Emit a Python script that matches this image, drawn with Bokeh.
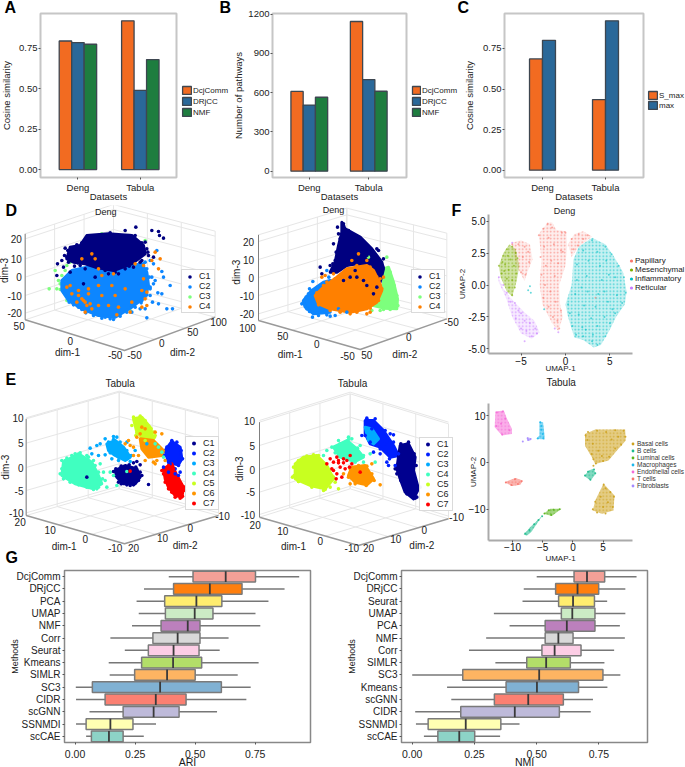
from math import pi
from bokeh.plotting import figure
from bokeh.models import Range1d, FixedTicker, Legend, LegendItem, Row, Column
from bokeh.core.properties import value
from bokeh.embed import file_html
from bokeh.resources import INLINE

FONT = "Liberation Sans"

# ---------- panels A, B, C ----------
DATASETS = ["Deng", "Tabula"]
METHODS_ABC = ["DcjComm", "DRjCC", "NMF"]
A_VALUES = [[0.795, 0.92], [0.785, 0.49], [0.775, 0.68]]
B_VALUES = [[610, 1144], [505, 700], [565, 611]]
C_NAMES = ["S_max", "max"]
C_VALUES = [[0.685, 0.435], [0.80, 0.92]]
BAR_COLORS = ["#f26b21", "#2a6899", "#1e7d3f"]

# ---------- panel G ----------
ARI_METHODS = ["DcjComm", "DRjCC", "PCA", "UMAP", "NMF", "Corr", "Seurat", "Kmeans", "SIMLR", "SC3", "CIDR", "scGNN", "SSNMDI", "scCAE"]
ARI_LOW = [.39, .287, .256, .265, .237, .147, .207, .14, .144, .003, .004, .06, .004, .046]
ARI_Q1 = [.491, .41, .373, .376, .358, .324, .305, .277, .248, .072, .125, .2, .046, .068]
ARI_MED = [.627, .561, .505, .498, .469, .427, .41, .408, .383, .354, .336, .327, .147, .141]
ARI_Q3 = [.751, .695, .611, .574, .52, .52, .516, .527, .50, .609, .462, .433, .241, .2]
ARI_HIGH = [.933, .872, .805, .751, .771, .639, .602, .764, .677, .731, .713, .591, .337, .286]
NMI_METHODS = ["DcjComm", "DRjCC", "Seurat", "UMAP", "PCA", "NMF", "Corr", "SIMLR", "SC3", "Kmeans", "scGNN", "CIDR", "SSNMDI", "scCAE"]
NMI_LOW = [.5, .448, .443, .328, .391, .297, .228, .334, .0, .14, .157, .012, .015, .047]
NMI_Q1 = [.65, .576, .588, .599, .534, .534, .521, .46, .203, .377, .33, .195, .064, .103]
NMI_MED = [.702, .664, .646, .643, .621, .587, .572, .538, .51, .501, .466, .412, .215, .189]
NMI_Q3 = [.773, .749, .732, .734, .734, .646, .678, .635, .766, .668, .607, .591, .356, .251]
NMI_HIGH = [.901, .856, .783, .856, .834, .854, .811, .772, .836, .784, .726, .717, .431, .353]
BOX_COLORS = ["#f4a097", "#ff7f0e", "#ffed6f", "#ccebc5", "#bc80bd", "#d9d9d9", "#fccde5", "#b3de69", "#fdb462", "#80b1d3", "#fb8072", "#bebada", "#ffffb3", "#8dd3c7"]

# ---------- panel D (projected plane of the 3-D views) ----------
CLUSTERS_4 = ["C1", "C2", "C3", "C4"]
COLORS_4 = ["#000080", "#0d86ff", "#7dff7d", "#ff8000"]
CLUSTERS_7 = ["C1", "C2", "C3", "C4", "C5", "C6", "C7"]
COLORS_7 = ["#00008f", "#0020ff", "#00aaff", "#40ffc0", "#c8ff20", "#ff9500", "#ff0000"]

D1_C1_BLOB = [(265,90),(330,85),(400,90),(435,120),(440,145),(400,175),(345,195),(290,185),(260,175),(225,170),(205,160),(215,125),(245,120)]
D1_C2_BLOB = [(190,225),(220,195),(290,180),(370,185),(430,175),(445,200),(450,240),(440,275),(400,305),(350,335),(300,330),(250,310),(210,285),(190,255)]
D1_C1 = [(412,65),(460,75),(480,78),(483,90),(495,98),(410,90),(380,75),(335,82),(268,92),(263,105),(235,118),(200,128),(205,155),(190,165),(177,175),(195,185),(175,210),(232,140),(220,150),(250,130),(300,100),(345,95),(440,110),(445,130),(465,155),(450,150),(430,165),(405,185),(380,190),(360,205),(330,205),(290,215),(255,235),(245,180),(275,165),(320,195),(310,110),(370,100),(395,130),(420,140),(280,100),(320,92),(355,88),(390,95),(430,112),(448,140),(425,170),(392,182),(350,200),(300,185),(268,175),(238,172),(210,170),(198,150),(208,135),(225,128),(250,112),(272,120),(228,182),(215,200),(260,190)]
D1_C2 = [(445,337),(505,310),(522,310),(480,295),(462,290),(478,262),(490,265),(515,240),(495,215),(490,198),(470,225),(460,215),(455,250),(465,235),(440,310),(425,310),(400,320),(345,342),(320,335),(250,312),(465,175),(455,165),(475,135),(440,170),(430,285),(455,270),(195,235),(200,265),(212,290),(225,298),(240,305),(262,322),(285,330),(310,338),(335,340),(365,332),(385,320),(410,305),(428,292),(445,268),(455,245),(452,215),(445,190),(435,175)]
D1_C3 = [(152,250),(170,195),(175,250),(185,235),(180,225),(190,210),(205,180),(215,170),(200,195),(195,260),(205,285),(210,275),(185,252),(310,85),(345,95),(320,130),(275,120),(350,170),(300,160),(260,140),(410,140),(395,315),(440,105),(420,120),(380,155),(330,150),(240,165)]
D1_C4 = [(215,240),(205,245),(240,255),(250,280),(260,290),(265,300),(275,295),(255,285),(240,270),(280,310),(260,320),(300,300),(330,300),(360,305),(355,328),(395,320),(430,305),(440,280),(445,260),(430,255),(435,220),(435,180),(460,165),(470,140),(485,160),(480,190),(445,300),(290,160),(280,145),(250,160),(345,205),(310,210),(310,270),(350,270),(380,250),(300,240),(270,265),(235,290),(410,175),(300,190),(340,240),(270,250),(400,290),(220,265)]

D2_C1_BLOB = [(355,50),(365,70),(410,95),(445,130),(475,170),(480,190),(470,230),(445,225),(430,200),(400,175),(370,180),(340,200),(320,200),(335,170),(345,120),(355,80)]
D2_C2_BLOB = [(240,285),(265,255),(300,230),(320,225),(345,235),(300,270),(310,300),(320,320),(270,325),(245,305)]
D2_C3_BLOB = [(480,190),(495,185),(510,230),(522,280),(520,310),(480,308),(450,300),(465,270),(480,235)]
D2_C4_BLOB = [(300,245),(340,215),(370,190),(430,180),(450,195),(470,235),(475,255),(460,290),(430,310),(380,320),(320,310),(285,295),(275,270)]
D2_C1 = [(342,65),(360,55),(345,85),(352,105),(330,115),(345,145),(335,165),(320,180),(290,185),(295,205),(400,145),(430,150),(460,130),(465,135),(480,160),(395,100),(375,75),(470,215),(460,245),(450,265),(420,225),(400,215),(380,215),(360,225),(430,240),(395,195),(340,185),(360,60),(372,80),(390,92),(412,108),(430,125),(448,140),(462,160),(478,185),(350,100),(338,140),(328,175)]
D2_C2 = [(240,288),(250,310),(267,335),(280,322),(305,318),(335,330),(320,332),(268,228),(290,240),(310,195),(316,215),(255,265),(345,310),(370,320),(258,250),(235,295),(248,275),(260,262),(282,245),(300,235),(245,300),(258,318),(285,330),(310,328)]
D2_C3 = [(470,315),(445,315),(490,155),(500,200),(435,155),(465,300),(505,300),(512,240),(520,270),(523,300),(500,312),(480,312),(492,190)]
D2_C4 = [(430,325),(440,320),(405,145),(380,325),(350,315),(295,215),(305,210),(330,205),(310,230),(430,165),(385,165),(440,185),(470,220),(480,215),(280,262),(300,240),(285,298),(320,315),(350,320),(400,320),(440,308),(465,285),(475,250),(460,215),(440,190),(400,180),(365,195),(335,220)]

# ---------- panel E ----------
E1_BLOBS = {
 0: [(350,285),(380,270),(415,280),(425,305),(410,325),(375,325),(355,305)],
 1: [(500,225),(520,198),(545,215),(550,250),(540,268),(510,262)],
 2: [(325,205),(350,195),(375,215),(395,245),(380,255),(350,240),(330,225)],
 3: [(195,260),(240,235),(280,260),(300,300),(310,325),(285,340),(230,325),(190,300)],
 4: [(405,130),(430,125),(455,155),(465,190),(440,195),(415,170)],
 5: [(425,190),(465,195),(495,225),(490,240),(450,245),(430,220)],
 6: [(495,280),(520,265),(535,300),(555,335),(550,365),(530,360),(510,335),(500,310)],
}
E1_C1 = [(345,288),(405,262),(425,268),(415,258),(450,327),(430,300),(360,320),(395,330),(350,300),(265,305),(352,280),(368,272),(392,268),(412,275),(425,290),(420,315),(405,328),(385,328),(368,325)]
E1_C2 = [(530,280),(545,290),(530,295),(510,290),(495,275),(540,300),(505,215),(520,195),(535,200),(548,225),(552,250),(540,270),(515,265),(498,240)]
E1_C3 = [(275,218),(295,210),(305,205),(320,190),(345,183),(355,185),(385,200),(280,235),(300,240),(320,238),(340,250),(360,255),(395,258),(410,225),(445,205),(330,200),(345,192),(365,200),(385,225),(398,240),(385,250),(360,245),(335,232)]
E1_C4 = [(190,255),(205,248),(230,235),(265,240),(285,255),(305,265),(315,290),(335,290),(345,300),(320,315),(355,330),(300,335),(285,342),(325,335),(185,295),(195,310),(215,320),(480,215),(490,230),(470,205),(495,245),(385,288),(300,310),(200,255),(220,240),(245,232),(270,245),(290,270),(300,290),(312,310),(295,340),(265,335),(240,328),(215,315),(190,280)]
E1_C5 = [(400,150),(465,170),(470,180),(412,180),(405,125),(425,122),(440,135),(458,160),(468,185),(440,195),(415,172)]
E1_C6 = [(380,205),(390,195),(405,215),(420,240),(440,160),(430,155),(415,185),(470,170),(470,265),(475,255),(500,255),(405,240),(395,210),(450,230),(440,255),(490,175),(465,260),(425,175)]
E1_C7 = [(490,285),(395,287),(545,368),(560,345),(520,350),(495,295),(510,270),(525,280),(540,310),(558,335),(552,362),(530,365),(510,340),(500,320),(535,340)]

E2_BLOBS = {
 0: [(530,210),(555,205),(575,245),(570,285),(585,340),(570,370),(545,350),(530,310),(520,280)],
 1: [(425,135),(450,135),(480,165),(510,210),(525,240),(500,245),(470,215),(440,205),(425,175)],
 2: [(425,155),(445,160),(465,190),(450,205),(435,195)],
 3: [(330,215),(370,195),(400,220),(420,245),(395,258),(350,245)],
 4: [(215,265),(240,245),(280,240),(310,270),(330,310),(305,340),(260,330),(215,310)],
 5: [(385,275),(425,270),(450,310),(430,328),(395,320),(375,300)],
}
E2_C1 = [(520,295),(515,280),(580,365),(575,310),(532,205),(555,200),(572,235),(578,270),(590,335),(575,368),(550,355),(532,315),(520,270),(530,245)]
E2_C2 = [(490,260),(495,270),(515,270),(500,175),(415,180),(450,230),(470,235),(485,205),(510,178),(430,128),(455,130),(485,165),(510,200),(525,235),(498,250),(470,220),(440,200),(425,180),(445,160)]
E2_C3 = [(440,170),(455,190)]
E2_C4 = [(310,225),(345,195),(375,185),(410,210),(440,235),(455,260),(420,260),(300,240),(385,190),(325,215),(350,205),(375,192),(402,218),(420,240),(395,260),(360,250),(335,232)]
E2_C5 = [(207,305),(225,318),(300,345),(320,335),(345,340),(330,305),(270,238),(320,315),(210,275),(225,255),(250,242),(285,240),(305,265),(325,300),(335,320),(305,342),(265,335),(225,318),(212,300)]
E2_C6 = [(470,328),(360,295),(445,265),(380,325),(380,280),(405,270),(430,272),(445,295),(452,315),(428,330),(395,325),(375,305)]
E2_C7 = [(340,245),(345,255),(330,260),(360,250),(310,265),(325,280),(340,295),(338,310),(355,305),(385,265),(378,275),(345,262),(360,262),(365,280),(330,285),(410,290),(350,275),(380,240),(320,250),(370,255)]

# tick labels of the 3-D views: text, plane x, plane y
D1_TICKS = [("50",62,362),("0",215,407),("-50",350,449),("-50",408,449),("0",490,413),("50",583,380),("100",660,350)]
D1_Z = [("20",100),("10",160),("0",215),("-10",270),("-20",323)]
D2_TICKS = [("100",72,366),("50",178,392),("0",280,416),("-50",372,450),("50",430,449),("0",556,395),("-50",684,348)]
D2_Z = [("20",108),("10",162),("0",216),("-10",270),("-20",325)]
E1_TICKS = [("20",65,440),("10",155,462),("0",260,490),("-10",350,517),("20",405,517),("10",492,488),("0",575,458),("-10",672,420)]
E1_Z = [("10",127),("5",203),("0",276),("-5",345),("-10",412)]
E2_TICKS = [("20",95,447),("10",178,465),("0",290,495),("-10",385,517),("20",435,517),("10",517,490),("0",602,463)]
E2_Z = [("10",135),("5",210),("0",282),("-5",350),("-10",417)]

# ---------- panel F ----------
F_NAMES = ["Papillary", "Mesenchymal", "Inflammatory", "Reticular"]
F_COLORS = ["#f8766d", "#7cae00", "#00bfc4", "#c77cff"]
F_PAP_BLOB1 = [(-2,4.9),(-3,4),(-2.7,2),(-2.9,0),(-2.6,-1.5),(-1.5,-3),(-0.8,-3.6),(-0.3,-2.5),(-0.6,-1.5),(-0.7,0),(0,1.5),(0.2,3),(0.1,4.2),(-1,4.3),(-1.5,4.9)]
F_PAP_BLOB2 = [(-6,3.3),(-5,3.5),(-4,3.2),(-3.7,2),(-4.3,1),(-4.6,0.3),(-5.5,1.5),(-6,3)]
F_PAP_BLOB3 = [(0.3,3.2),(1,4),(2,4.2),(3,3.8),(1.5,3),(0.7,2.2)]
F_MES_BLOB = [(-7.5,1.5),(-7,2.5),(-6.3,3.2),(-5.6,2.8),(-5.2,1.5),(-5.5,0.3),(-6,-0.9),(-6.6,-0.5),(-7.3,0.6)]
F_INF_BLOB = [(3,3.7),(4.5,3.2),(5.5,2.2),(6.5,1),(6.9,-0.5),(6.7,-1.5),(5.7,-2.5),(5,-3.5),(4,-4.7),(3.2,-4.9),(2,-4.3),(1,-4.1),(0.3,-2.5),(0,-1.5),(0.7,0),(0.9,2),(1.5,3)]
F_RET_BLOB = [(-7.6,0.7),(-7,-0.3),(-6.2,-1),(-5.5,-1.5),(-4.5,-2.2),(-3.5,-2.8),(-2.9,-3.7),(-3.8,-4.2),(-5,-3.8),(-6,-2.5),(-6.7,-1),(-7.5,0.2)]
F_PAP = [(-2,4.8),(-2.5,4.4),(-3,3.9),(-1.5,4.5),(-1.9,3.7),(-2.4,3),(-2.8,2.2),(-1.3,3.2),(-0.5,2.7),(-0.3,2.6),(-0.4,4.1),(0,4.1),(-2.2,1.5),(-2.7,0.8),(-1.6,1.9),(-0.8,1.7),(-1.2,0.7),(-2.3,0),(-1.7,-0.5),(-2.5,-1),(-1.1,-1.3),(-1.9,-1.7),(-1.4,-2.5),(-0.9,-2.8),(-0.7,-3.4),(-0.5,-2),(-6,3.2),(-5.3,3.2),(-4.6,3),(-4.2,2.6),(-4.8,2.2),(-4.1,1.8),(-5,1),(-4.5,0.8),(0.7,3.6),(1.5,4),(2,3.6),(0.9,2.8),(1.4,3.1),(2.5,3.9),(3.4,-1)]
F_MES = [(-7.5,1.5),(-7,2.3),(-6.6,2.8),(-6,3),(-5.6,2.5),(-6.2,2),(-6.8,1.6),(-7.2,0.9),(-6.4,1.2),(-5.8,1.5),(-5.5,0.9),(-6,0.4),(-6.6,0.5),(-6.3,-0.2),(-6,-0.8),(-5.7,-0.2),(-7.1,1.8),(-6.5,2.3),(-5.4,2.1),(-6.9,1.1)]
F_INF = [(3,3.5),(4.5,3),(5.2,2.4),(6,1.5),(6.6,0.6),(6.8,-0.6),(6.4,-1.4),(5.6,-2.2),(5,-3),(4.5,-4),(3.6,-4.7),(3,-4.4),(2,-4),(1.2,-3.9),(0.8,-3.2),(0.5,-2.2),(0.3,-1.5),(1.1,-0.7),(1.3,0.4),(1.3,1.6),(2,2.7),(2.6,1.9),(2.4,0.7),(2.5,-0.5),(2.1,-1.6),(1.9,-3.3),(2.3,-3.5),(2.9,-2.6),(3.4,-1.7),(3.7,-0.7),(4.1,0.4),(3.9,1.5),(3.6,2.6),(4.6,1.9),(4.9,0.8),(4.4,-0.5),(4.8,-1.3),(4.4,-2.5),(3.6,-3.2),(5.6,0.6),(5.8,-0.8),(5.3,-1.9),(3.1,-3.9),(1.5,-2.3),(1.8,-0.2),(-4.2,-0.4),(-4,-0.1),(-3.9,-0.6),(-2.4,-1.9)]
F_RET = [(-7.5,0.6),(-7,0),(-6.6,-0.6),(-6.2,-1.3),(-5.7,-1.4),(-5.3,-2),(-5.6,-2.6),(-5,-2.2),(-4.6,-2.8),(-5,-3.4),(-4.4,-3.6),(-3.8,-4),(-3.4,-3.4),(-4,-3),(-3.2,-3.8),(-4.6,-4.4),(-1.2,-3.4),(-0.8,-3.7),(-6,3.3)]

F2_NAMES = ["Basal cells", "B cells", "Luminal cells", "Macrophages", "Endothelial cells", "T cells", "Fibroblasts"]
F2_COLORS = ["#cda21e", "#1dbb8e", "#5ab51b", "#1cb8ec", "#f56bd7", "#f8766d", "#a58aff"]
F2_BLOBS = [
 (0, [(2.0,6.1),(3.7,7.05),(8.65,7.05),(8.76,4.7),(7.5,2.9),(5.9,0.4),(3.7,-0.3),(3.15,1.1),(2.0,3.6)]),
 (0, [(5.07,-4.55),(6.9,-7.05),(6.7,-10.25),(4.8,-10.95),(3.3,-10.25),(3.7,-8.1)]),
 (1, [(3.4,-1.35),(3.8,-2.4),(2.9,-3.85),(1.9,-2.9),(2.6,-1.7)]),
 (1, [(-8.15,-15.45),(-7.05,-13.8),(-5.1,-11.45),(-6.9,-14.85),(-7.6,-15.6)]),
 (2, [(-4.85,-10.95),(-3.75,-9.9),(-1.9,-9.9),(-3.5,-11.45)]),
 (3, [(-5.55,8.75),(-4.95,8.6),(-4.7,5.75),(-4.7,4.9),(-6.1,5.05),(-5.55,5.75)]),
 (4, [(-12.85,10.9),(-11.45,11.1),(-10.9,9.3),(-10.1,7.2),(-10.1,6.1),(-11.75,5.75),(-12.95,7.55)]),
 (5, [(-11.3,-4.2),(-9.5,-3.3),(-8.3,-3.85),(-8.7,-4.75),(-10.1,-5.05)]),
 (6, [(-7.6,5.4),(-6.9,5.2),(-7.05,4.7),(-7.6,4.7)]),
]
F2_POINTS = [
 [(2.5,6.5),(4,6.8),(5.5,6.5),(7,6.9),(8.4,6.8),(8.7,5.5),(8,3.8),(7,3),(6,1.2),(5,0.3),(3.8,-0.2),(3.4,0.7),(3.1,1.8),(2.4,4.8),(2.1,5.8),(3.3,4),(4.2,2.5),(4.8,1.4),(6.4,4.9),(7.5,5.5),(3.4,-0.7),(5.1,-4.7),(5.4,-5.5),(6.2,-6.3),(6.8,-7.3),(6.6,-9.5),(5.4,-10.9),(4,-10.7),(3.3,-10),(3.7,-8.4),(4.6,-7.3),(5.8,-8.5),(5,-9.5)],
 [(3.5,-1.5),(3.7,-2.3),(2.9,-3.7),(2,-2.8),(2.5,-2),(-7.9,-15.2),(-7.2,-14.4),(-6.4,-13.2),(-5.7,-12.3),(-5.1,-11.5)],
 [(-4.7,-10.9),(-4,-10.2),(-3.2,-10.1),(-2.2,-10),(-3.6,-11.2)],
 [(-5.4,8.6),(-5.2,7.8),(-5.2,7),(-5,6.1),(-4.9,5.2),(-5.8,5.1)],
 [(-12.6,10.7),(-11.6,10.9),(-11.2,9.4),(-12.7,7.8),(-10.5,6.9),(-11.7,6),(-11.9,8.3)],
 [(-11.1,-4.3),(-9.6,-3.6),(-8.5,-4),(-9.1,-4.6),(-10.2,-4.8)],
 [(-7.5,5.2),(-7,5),(-7.4,4.8),(-8.3,4.5)],
]
AXIS_TITLE_COLOR = "#1a1a1a"


def figure_at(x0, x1, y0, y1, fl, fr, ft, fb, xr, yr):
    """Figure whose canvas spans x0..x1, y0..y1 of the page, frame fl..fr, ft..fb."""
    p = figure(width=x1 - x0, height=y1 - y0, x_range=Range1d(*xr), y_range=Range1d(*yr),
               output_backend="svg", toolbar_location=None, tools="",
               min_border_left=fl - x0, min_border_right=x1 - fr, min_border_top=ft - y0,
               min_border_bottom=y1 - fb, border_fill_color=None)
    p.grid.visible = False
    for ax in p.axis:
        ax.axis_label_text_font = FONT
        ax.major_label_text_font = FONT
        ax.axis_label_text_font_style = "normal"
        ax.minor_tick_line_color = None
    return p


def style_axes(p, tick_size, title_size, tick_color="#222222", standoff=1, title_standoff=1):
    for ax in p.axis:
        ax.major_label_text_font_size = tick_size
        ax.axis_label_text_font_size = title_size
        ax.major_label_text_color = tick_color
        ax.axis_label_text_color = AXIS_TITLE_COLOR
        ax.major_tick_out = 2
        ax.major_tick_in = 0
        ax.major_tick_line_color = "#555555"
        ax.major_label_standoff = standoff
        ax.axis_label_standoff = title_standoff
        ax.minor_tick_line_color = None


def bar_panel(x0, x1, fl, fr, ft, fb, xr, yr, yticks, ylabels, ytitle, values, colors, width, offsets, ystand):
    p = figure_at(x0, x1, 0, 206, fl, fr, ft, fb, xr, yr)
    p.outline_line_color = "#c6c6c6"
    p.outline_line_width = 2
    style_axes(p, "9.5px", "9.5px")
    p.xaxis.axis_line_color = None
    p.yaxis.axis_line_color = None
    p.xaxis.ticker = FixedTicker(ticks=[1, 2])
    p.xaxis.major_label_overrides = {i + 1: d for i, d in enumerate(DATASETS)}
    p.xaxis.axis_label = "Datasets"
    p.xaxis.major_label_standoff = 2
    p.xaxis.axis_label_standoff = -5
    p.yaxis.axis_label = ytitle
    p.yaxis.axis_label_standoff = ystand
    p.yaxis.ticker = FixedTicker(ticks=yticks)
    p.yaxis.major_label_overrides = dict(zip(yticks, ylabels))
    for vals, col, off in zip(values, colors, offsets):
        p.vbar(x=[1 + off, 2 + off], top=vals, bottom=0, width=width, fill_color=col,
               line_color="#3d4650", line_width=1.3)
    return p


def blob(p, pts, color, alpha=1.0, hatch=False):
    xs = [a for a, _ in pts]
    ys = [b for _, b in pts]
    if hatch:
        p.patch(xs, ys, fill_color=color, fill_alpha=alpha, line_color=None, hatch_pattern="dot",
                hatch_color=color, hatch_scale=3.5, hatch_weight=0.8, hatch_alpha=0.65)
    else:
        p.patch(xs, ys, fill_color=color, fill_alpha=alpha, line_color=color, line_width=3, line_join="round")


def dots(p, pts, color, size=3.6, alpha=1.0):
    return p.scatter([a for a, _ in pts], [b for _, b in pts], size=size, fill_color=color, fill_alpha=alpha,
                     line_color=None)


def lerp(a, b, t):
    return (a[0] + (b[0] - a[0]) * t, a[1] + (b[1] - a[1]) * t)


def box3d(p, L, F, R, K, H, zs):
    xs0, ys0, xs1, ys1 = [], [], [], []

    def seg(a, b):
        xs0.append(a[0]); ys0.append(a[1]); xs1.append(b[0]); ys1.append(b[1])

    for a, b in ((L, K), (K, R)):
        for t in (0, 1 / 3, 2 / 3, 1):
            q = lerp(a, b, t)
            seg(q, (q[0], q[1] - H))
        seg((a[0], a[1] - H), (b[0], b[1] - H))
        seg(a, b)
    for t in (1 / 3, 2 / 3):
        seg(lerp(L, K, t), lerp(F, R, t))
        seg(lerp(K, R, t), lerp(L, F, t))
    for _, zy in zs:
        d = L[1] - zy
        seg((L[0], L[1] - d), (K[0], K[1] - d))
        seg((K[0], K[1] - d), (R[0], R[1] - d))
    p.segment(xs0, ys0, xs1, ys1, line_color="#e6e6e6", line_width=1)
    p.line([L[0], F[0], R[0]], [L[1], F[1], R[1]], line_color="#9a9a9a", line_width=1.5)
    p.line([L[0], L[0]], [L[1], L[1] - H], line_color="#808080", line_width=1)


def ptext(p, xs, ys, texts, size, align="center", angle=0.0, color="#222222", style="normal", baseline="middle"):
    p.text(xs, ys, text=texts, text_font=value(FONT), text_font_size=value(size), text_align=align,
           text_baseline=baseline, angle=angle, text_color=color, text_font_style=style)


def view3d(x_span, y_span, width, height, L, F, R, K, H, z_ticks, ticks, z_x, title, title_xy, dim1, dim2, dim3):
    p = figure(width=width, height=height, x_range=Range1d(*x_span), y_range=Range1d(y_span[1], y_span[0]),
               output_backend="svg", toolbar_location=None, tools="", min_border=0,
               border_fill_color=None, outline_line_color=None, background_fill_color=None)
    p.axis.visible = False
    p.grid.visible = False
    box3d(p, L, F, R, K, H, z_ticks)
    ptext(p, [z_x] * len(z_ticks), [z for _, z in z_ticks], [t for t, _ in z_ticks], "10px", align="right")
    ptext(p, [t[1] for t in ticks], [t[2] for t in ticks], [t[0] for t in ticks], "10px")
    ptext(p, [dim1[0]], [dim1[1]], ["dim-1"], "10px")
    ptext(p, [dim2[0]], [dim2[1]], ["dim-2"], "10px")
    ptext(p, [dim3[0]], [dim3[1]], ["dim-3"], "10px", angle=pi / 2)
    ptext(p, [title_xy[0]], [title_xy[1]], [title], title_xy[2])
    return p


def add_cluster_legend(p, names, renderers, at, glyph_h):
    items = [LegendItem(label=n, renderers=[r]) for n, r in zip(names, renderers)]
    leg = Legend(items=items, location=at, orientation="vertical", glyph_width=13, glyph_height=glyph_h,
                 label_width=14, label_height=glyph_h, label_standoff=3, spacing=0, padding=1, margin=0,
                 border_line_color="#b5b5b5", border_line_width=1.5, background_fill_color="white",
                 label_text_font=FONT, label_text_font_size="9px", label_text_color="#222222")
    p.add_layout(leg)


# ---- row 1 -----
pa = bar_panel(0, 232, 36, 178, 13, 178, (0.4, 2.58), (-0.049, 0.965), [0, .25, .5, .75],
               ["0.00", "0.25", "0.50", "0.75"], "Cosine similarity", A_VALUES, BAR_COLORS, 0.2,
               [-0.2, 0, 0.2], 4)
pb = bar_panel(232, 463, 266, 408, 13, 178, (0.381, 2.635), (-48, 1205), [0, 300, 600, 900, 1200],
               ["0", "300", "600", "900", "1200"], "Number of pathways", B_VALUES, BAR_COLORS, 0.206,
               [-0.206, 0, 0.206], 1)
pc = bar_panel(463, 685, 495, 645, 14, 178, (0.397, 2.603), (-0.045, 0.965), [0, .25, .5, .75],
               ["0.00", "0.25", "0.50", "0.75"], "Cosine similarity", C_VALUES, BAR_COLORS[:2], 0.206,
               [-0.103, 0.103], 5)

# ---- D ----
d1 = view3d((0, 696), (0, 510), 232, 170, (80, 343), (378, 435), (650, 335), (345, 255), 258, D1_Z, D1_TICKS, 70,
            "Deng", (322, 18, "9px"), (207, 440), (552, 441), (18, 195))
r3 = dots(d1, D1_C3, COLORS_4[2])
blob(d1, D1_C2_BLOB, COLORS_4[1])
blob(d1, D1_C1_BLOB, COLORS_4[0])
r2 = dots(d1, D1_C2, COLORS_4[1])
r1 = dots(d1, D1_C1, COLORS_4[0])
r4 = dots(d1, D1_C4, COLORS_4[3])
add_cluster_legend(d1, CLUSTERS_4, [r1, r2, r3, r4], (183, 62), 9)

d2 = view3d((21, 711), (0, 510), 230, 170, (105, 345), (410, 432), (670, 340), (370, 265), 257, D2_Z, D2_TICKS, 92,
            "Deng", (330, 13, "9px"), (200, 446), (544, 447), (38, 200))
blob(d2, D2_C3_BLOB, COLORS_4[2])
blob(d2, D2_C1_BLOB, COLORS_4[0])
blob(d2, D2_C2_BLOB, COLORS_4[1])
blob(d2, D2_C4_BLOB, COLORS_4[3])
r3 = dots(d2, D2_C3, COLORS_4[2])
r1 = dots(d2, D2_C1, COLORS_4[0])
r2 = dots(d2, D2_C2, COLORS_4[1])
r4 = dots(d2, D2_C4, COLORS_4[3])
add_cluster_legend(d2, CLUSTERS_4, [r1, r2, r3, r4], (181, 62), 9)

# ---- E ----
e1 = view3d((0, 708), (0, 573), 236, 191, (83, 420), (378, 505), (660, 420), (362, 340), 290, E1_Z, E1_TICKS, 75,
            "Tabula", (365, 25, "10px"), (197, 513), (560, 510), (22, 275))
E1_PTS = [E1_C1, E1_C2, E1_C3, E1_C4, E1_C5, E1_C6, E1_C7]
for k in (3, 2, 0, 4, 1, 5, 6):
    blob(e1, E1_BLOBS[k], COLORS_7[k])
rs = [dots(e1, pts, c) for pts, c in zip(E1_PTS, COLORS_7)]
add_cluster_legend(e1, CLUSTERS_7, rs, (187, 56), 10)

e2 = view3d((33, 711), (0, 573), 226, 191, (108, 425), (405, 510), (675, 430), (380, 340), 285, E2_Z, E2_TICKS, 95,
            "Tabula", (387, 23, "10px"), (210, 512), (595, 510), (47, 280))
E2_PTS = [E2_C1, E2_C2, E2_C3, E2_C4, E2_C5, E2_C6, E2_C7]
for k in (4, 3, 5, 1, 2, 0):
    blob(e2, E2_BLOBS[k], COLORS_7[k])
rs = [dots(e2, pts, c) for pts, c in zip(E2_PTS, COLORS_7)]
add_cluster_legend(e2, CLUSTERS_7, rs, (185, 55), 10)

# ---- F ----
f1 = figure_at(456, 685, 205, 375, 488, 634, 214, 354, (-8.67, 7.56), (-5.36, 5.52))
f1.outline_line_color = None
f1.background_fill_color = None
style_axes(f1, "10px", "8px", tick_color="#111111", standoff=1, title_standoff=-4)
f1.yaxis.axis_label_standoff = -2
for ax in f1.axis:
    ax.axis_line_color = "#aaaaaa"
    ax.axis_line_width = 2
f1.xaxis.ticker = FixedTicker(ticks=[-5, 0, 5])
f1.yaxis.ticker = FixedTicker(ticks=[-5, -2.5, 0, 2.5, 5])
f1.yaxis.major_label_overrides = {-5: "-5.0", -2.5: "-2.5", 0: "0.0", 2.5: "2.5", 5: "5.0"}
f1.xaxis.axis_label = "UMAP-1"
f1.yaxis.axis_label = "UMAP-2"
for pts in (F_PAP_BLOB1, F_PAP_BLOB2, F_PAP_BLOB3):
    blob(f1, pts, F_COLORS[0], 0.12, hatch=True)
blob(f1, F_INF_BLOB, F_COLORS[2], 0.22, hatch=True)
blob(f1, F_RET_BLOB, F_COLORS[3], 0.15, hatch=True)
blob(f1, F_MES_BLOB, F_COLORS[1], 0.35, hatch=True)
for pts, c in zip((F_PAP, F_MES, F_INF, F_RET), F_COLORS):
    dots(f1, pts, c, size=2, alpha=0.6)

f2 = figure_at(456, 685, 375, 566, 490, 634, 403, 540, (-13.98, 9.87), (-16.67, 12.6))
f2.outline_line_color = None
f2.background_fill_color = None
style_axes(f2, "10px", "8px", tick_color="#111111", standoff=0, title_standoff=0)
f2.yaxis.major_label_standoff = 1
f2.yaxis.axis_label_standoff = -12
for ax in f2.axis:
    ax.axis_line_color = "#aaaaaa"
    ax.axis_line_width = 2
f2.xaxis.ticker = FixedTicker(ticks=[-10, -5, 0, 5])
f2.yaxis.ticker = FixedTicker(ticks=[-10, 0, 10])
f2.xaxis.axis_label = "UMAP-1"
f2.yaxis.axis_label = "UMAP-2"
for k, pts in F2_BLOBS:
    blob(f2, pts, F2_COLORS[k], 0.55, hatch=True)
for pts, c in zip(F2_POINTS, F2_COLORS):
    dots(f2, pts, c, size=2, alpha=0.9)


# ---- G ----
def box_panel(x0, x1, fl, fr, fb, xr, methods, low, q1, med, q3, high, xtitle):
    p = figure_at(x0, x1, 566, 770, fl, fr, 570, fb, xr, (0.5, 14.5))
    p.outline_line_color = "#888888"
    p.outline_line_width = 1.5
    style_axes(p, "10.5px", "9px", standoff=5, title_standoff=-5)
    p.yaxis.major_label_text_font_size = "10px"
    p.yaxis.major_label_standoff = 2
    p.yaxis.axis_label_standoff = -6
    p.xaxis.axis_label = xtitle
    p.xaxis.axis_label_text_font_size = "10.5px"
    p.yaxis.axis_label = "Methods"
    p.xaxis.axis_line_color = None
    p.yaxis.axis_line_color = None
    n = len(methods)
    ys = [n - i for i in range(n)]
    p.yaxis.ticker = FixedTicker(ticks=ys)
    p.yaxis.major_label_overrides = dict(zip(ys, methods))
    p.xaxis.ticker = FixedTicker(ticks=[0, .25, .5, .75])
    p.xaxis.major_label_overrides = {0: "0.00", .25: "0.25", .5: "0.50", .75: "0.75"}
    p.segment(low, ys, high, ys, line_color="#777777", line_width=1.5)
    p.hbar(y=ys, left=q1, right=q3, height=0.88, fill_color=BOX_COLORS, line_color="#7a7a7a", line_width=1.5)
    p.segment(med, [y - 0.44 for y in ys], med, [y + 0.44 for y in ys], line_color="#3a3a3a", line_width=1.8)
    return p


g1 = box_panel(0, 340, 66, 312, 744, (-0.044, 0.98), ARI_METHODS, ARI_LOW, ARI_Q1, ARI_MED, ARI_Q3, ARI_HIGH, "ARI")
g2 = box_panel(340, 685, 403, 649, 744, (-0.043, 0.945), NMI_METHODS, NMI_LOW, NMI_Q1, NMI_MED, NMI_Q3, NMI_HIGH, "NMI")

# ---- page overlay: panel letters, legends and titles that sit outside a plot frame ----
PANEL_LETTERS = [("A", 6, 8), ("B", 221, 8), ("C", 459, 8), ("D", 7, 211), ("E", 7, 380), ("F", 453, 211), ("G", 7, 558)]
ov = figure(width=687, height=771, x_range=Range1d(0, 687), y_range=Range1d(771, 0), output_backend="svg",
            toolbar_location=None, tools="", min_border=0, border_fill_color=None, outline_line_color=None,
            background_fill_color=None, margin=(-771, 0, 0, 0))
ov.axis.visible = False
ov.grid.visible = False
ptext(ov, [l[1] for l in PANEL_LETTERS], [l[2] for l in PANEL_LETTERS], [l[0] for l in PANEL_LETTERS], "16px",
      align="left", color="black", style="bold")
ptext(ov, [566], [211], ["Deng"], "9px")
ptext(ov, [562.7], [383], ["Tabula"], "10px")
ptext(ov, [458], [517], ["-10"], "10.5px")


def overlay_legend(names, renderers, at, gw, gh, standoff, spacing, size, color):
    ov.add_layout(Legend(items=[LegendItem(label=n, renderers=[r]) for n, r in zip(names, renderers)],
                         location=at, orientation="vertical", glyph_width=gw, glyph_height=gh, label_width=10,
                         label_height=gh, label_standoff=standoff, spacing=spacing, padding=0, margin=0,
                         border_line_color=None, background_fill_color=None, label_text_font=FONT,
                         label_text_font_size=size, label_text_color=color))


OFF_PAGE = [-999]  # legend keys only: nothing of these proxies falls on the page


def swatches(colors):
    return [ov.vbar(x=OFF_PAGE, top=OFF_PAGE, bottom=OFF_PAGE, width=1, fill_color=c, line_color="#3d4650", line_width=1.3) for c in colors]


def markers(colors):
    return [ov.scatter(x=OFF_PAGE, y=OFF_PAGE, size=4, fill_color=c, line_color=None) for c in colors]


overlay_legend(METHODS_ABC, swatches(BAR_COLORS), (183, 653), 11, 10, 1, 1, "8px", "#222222")
overlay_legend(METHODS_ABC, swatches(BAR_COLORS), (413, 653), 10, 10, 1, 1, "8px", "#222222")
overlay_legend(C_NAMES, swatches(BAR_COLORS[:2]), (649, 660), 11, 10, 1, 0, "8px", "#222222")
overlay_legend(F_NAMES, markers(F_COLORS), (629, 478), 8, 9, 0, 0, "8px", "#222222")
overlay_legend(F2_NAMES, markers(F2_COLORS), (631, 281), 7, 7, 1, 0, "6.5px", "#333333")

left = Column(children=[Row(children=[d1, d2]), Row(children=[e1, e2])])
right = Column(children=[f1, f2], margin=(0, 0, 0, -6))
root = Column(children=[Row(children=[pa, pb, pc]), Row(children=[left, right]), Row(children=[g1, g2]), ov],
              margin=(-1, 0, -4, -2))
open("out.html", "w").write(file_html(root, INLINE))
